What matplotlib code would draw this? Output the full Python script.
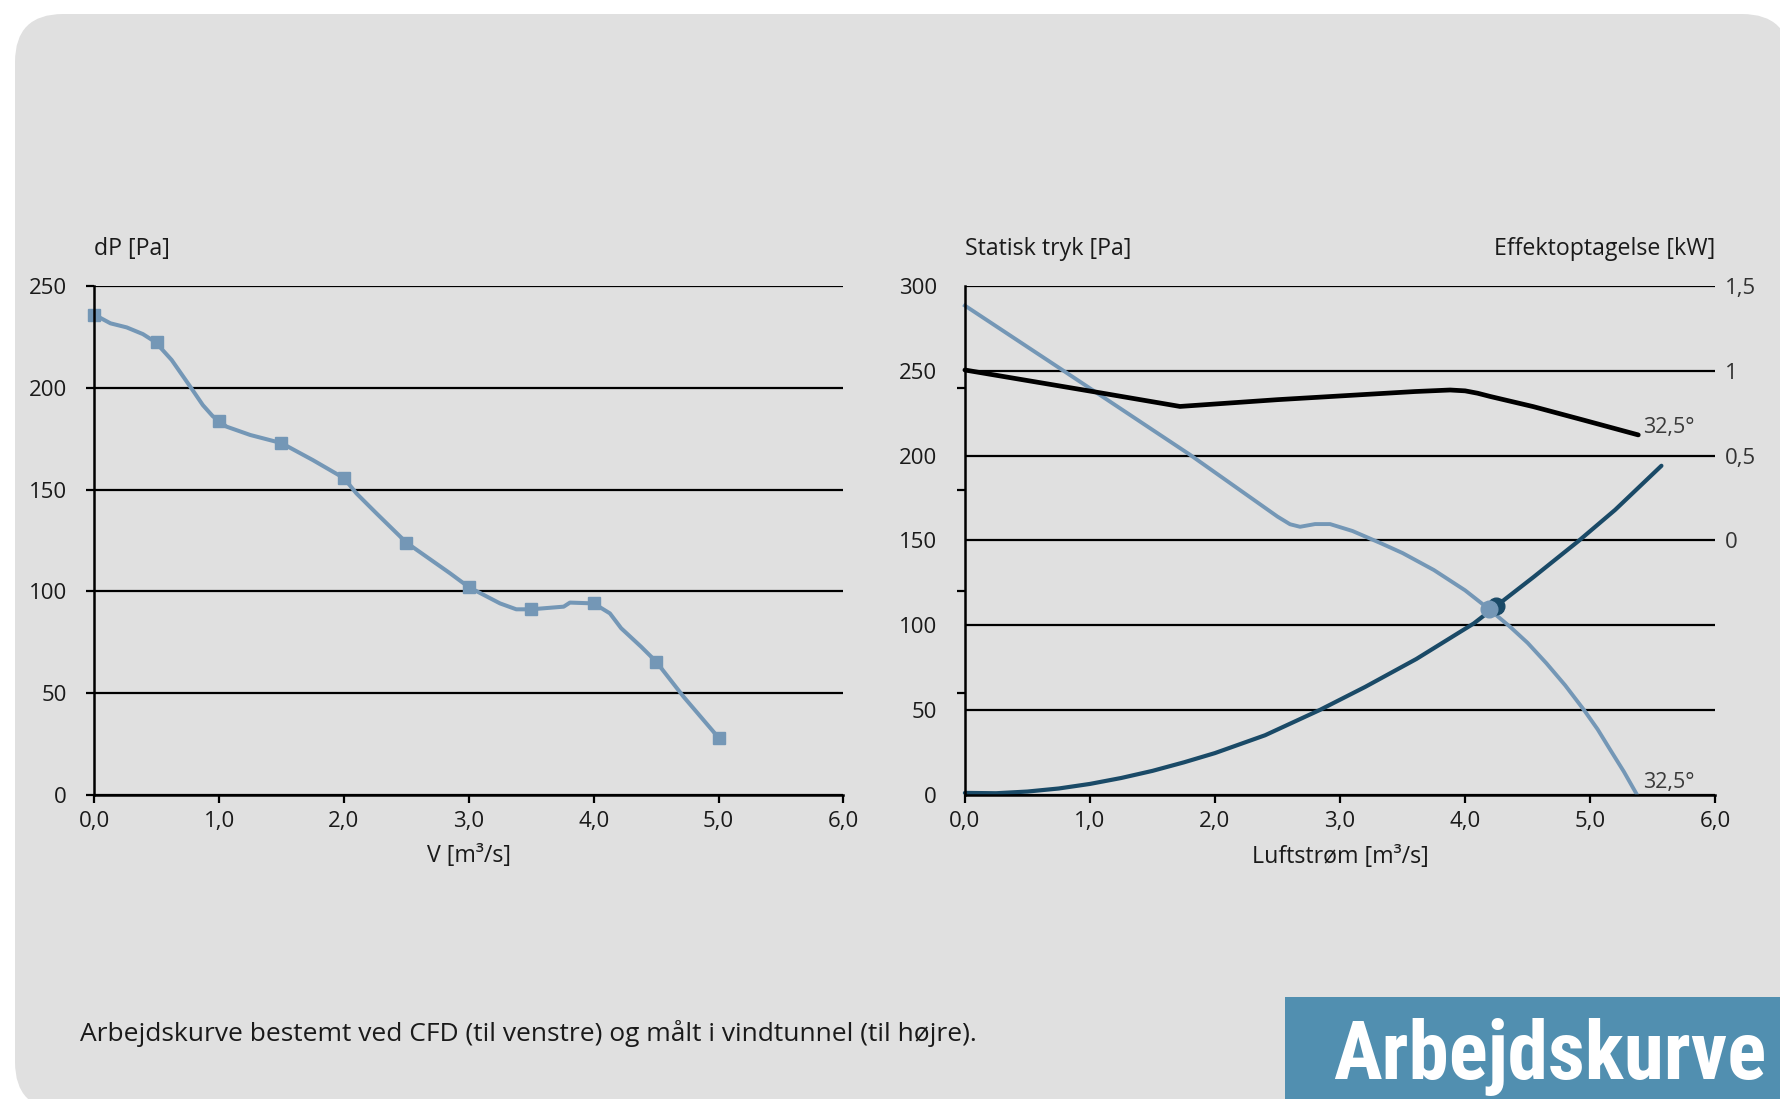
import matplotlib
matplotlib.use("Agg")
import matplotlib.pyplot as plt
from matplotlib.patches import FancyBboxPatch, Rectangle

plt.rcParams['font.family'] = ['Open Sans', 'DejaVu Sans']

# --- data ---
# left chart: CFD working curve
cfd_v = [0.0, 0.13, 0.26, 0.39, 0.49, 0.62, 0.77, 0.87, 0.95, 1.0, 1.06, 1.25, 1.5, 1.75,
         2.0, 2.1, 2.26, 2.5, 2.85, 3.0, 3.25, 3.38, 3.5, 3.76, 3.81, 4.0, 4.13, 4.22,
         4.38, 4.5, 4.72, 5.0]
cfd_dp = [236, 231.7, 229.7, 226.4, 222.5, 213.7, 200.5, 191.5, 186, 183.8, 180.9, 176.8,
          172.8, 164.5, 155.6, 148.1, 138.3, 123.9, 108.8, 102, 94, 91.1, 91.1, 92.4, 94.4,
          94, 89.1, 81.8, 72.7, 65.4, 48.1, 28]
cfd_pts_v = [0.0, 0.5, 1.0, 1.5, 2.0, 2.5, 3.0, 3.5, 4.0, 4.5, 5.0]
cfd_pts_dp = [236, 222.5, 183.8, 172.8, 155.6, 123.9, 102, 91.1, 94, 65.4, 28]

# right chart: wind tunnel measurement
fan_q = [0.0, 0.8, 1.8, 2.5, 2.6, 2.68, 2.8, 2.92, 3.1, 3.32, 3.5, 3.75, 4.0, 4.19, 4.36,
         4.5, 4.65, 4.8, 4.95, 5.06, 5.16, 5.27, 5.37]
fan_p = [288.5, 249.5, 200.5, 164, 159.5, 158, 159.6, 159.6, 155.5, 148.5, 142.5, 132.5,
         120.5, 109.5, 99, 89.5, 77.5, 64.5, 50, 38.5, 26.5, 13.5, 0.5]

sys_q = [0.0, 0.25, 0.5, 0.75, 1.0, 1.25, 1.5, 1.75, 2.0, 2.4, 2.84, 3.2, 3.61, 4.07,
         4.55, 4.905, 5.2, 5.57]
sys_p = [1.0, 0.8, 1.8, 3.6, 6.3, 9.8, 14, 19, 24.5, 35, 50, 63.5, 80, 101, 128.5, 149.5,
         168, 194]

pow_q = [0.0, 1.03, 1.72, 2.5, 3.3, 3.6, 3.88, 4.0, 4.1, 4.2, 4.545, 4.945, 5.385]
pow_kw = [1.005, 0.877, 0.79, 0.83, 0.865, 0.878, 0.887, 0.882, 0.868, 0.849, 0.789, 0.71,
          0.622]

op_sys = (4.25, 111.5)
op_fan = (4.19, 109.5)

x_ticks = [0, 1, 2, 3, 4, 5, 6]
x_labels = ['0,0', '1,0', '2,0', '3,0', '4,0', '5,0', '6,0']
kw_ticks = [0, 0.5, 1, 1.5]
kw_labels = ['0', '0,5', '1', '1,5']

W, H = 1780, 1099
light = '#7497b6'
dark = '#1a4a67'
grid_lw = 1.6
txt = '#1a1a1a'
lab_fs = 16.7


def frac(x0, y0, x1, y1):
    return [x0 / W, 1 - y1 / H, (x1 - x0) / W, (y1 - y0) / H]


fig = plt.figure(figsize=(W / 100, H / 100), dpi=100)
fig.patch.set_facecolor('white')

# background panel
bg = fig.add_axes([0, 0, 1, 1], zorder=-10)
bg.set_xlim(0, W)
bg.set_ylim(H, 0)
bg.axis('off')
bg.add_patch(FancyBboxPatch((15, 14), 1790 - 15, 1110 - 14,
                            boxstyle="round,pad=0,rounding_size=48",
                            fc='#e0e0e0', ec='none'))
bg.add_patch(Rectangle((1285, 997), 500, 110, fc='#518fb0', ec='none'))
title = bg.text(1333, 1079, 'Arbejdskurve', color='white', fontsize=58.5, fontweight='bold',
                family=['Liberation Sans Narrow', 'Roboto Condensed', 'DejaVu Sans Condensed',
                        'Liberation Sans'],
                va='baseline', ha='left')
# fit the title into the blue box (about 432 px wide)
r = fig.canvas.get_renderer()
tw = title.get_window_extent(r).width
if tw > 436:
    title.set_fontsize(58.5 * 432 / tw)

bg.text(80, 1041, 'Arbejdskurve bestemt ved CFD (til venstre) og målt i vindtunnel (til højre).',
        fontsize=19, color=txt, va='baseline', ha='left')


def style(ax):
    ax.set_facecolor('none')
    for s in ['top', 'right']:
        ax.spines[s].set_visible(False)
    for s in ['left', 'bottom']:
        ax.spines[s].set_linewidth(1.8)
    ax.set_xlim(0, 6)
    ax.set_xticks(x_ticks)
    ax.set_xticklabels(x_labels)
    ax.tick_params(axis='x', direction='out', length=5.5, width=1.6, pad=6,
                   labelsize=16, labelcolor=txt)
    ax.yaxis.grid(True, color='black', lw=grid_lw)
    ax.set_axisbelow(True)


# left chart
ax1 = fig.add_axes(frac(94.2, 286.1, 843.4, 794.6))
style(ax1)
ax1.set_ylim(0, 250)
ax1.set_yticks([0, 50, 100, 150, 200, 250])
ax1.tick_params(axis='y', direction='out', length=5.5, width=1.6, pad=14,
                labelsize=16, labelcolor=txt)
ax1.plot(cfd_v, cfd_dp, color=light, lw=2.9, clip_on=False)
ax1.plot(cfd_pts_v, cfd_pts_dp, ls='none', marker='s', ms=9, color=light, clip_on=False)
bg.text(94, 255, 'dP [Pa]', fontsize=lab_fs, color=txt, va='baseline', ha='left')
bg.text(468.8, 862, 'V [m³/s]', fontsize=lab_fs, color=txt, va='baseline', ha='center')

# right chart
ax2 = fig.add_axes(frac(964.9, 286.1, 1715.2, 794.6))
style(ax2)
ax2.set_ylim(0, 300)
ax2.set_yticks([0, 50, 100, 150, 200, 250, 300])
ax2.set_yticks([0, 60, 120, 180, 240, 300], minor=True)
ax2.tick_params(axis='y', which='major', length=0, pad=20, labelsize=16, labelcolor=txt)
ax2.tick_params(axis='y', which='minor', direction='out', length=5.5, width=1.6)
ax2.plot(sys_q, sys_p, color=dark, lw=3.0, solid_capstyle='round', clip_on=False)
ax2.plot(fan_q, fan_p, color=light, lw=2.8, clip_on=False)
ax2.plot(*op_sys, marker='o', ms=12, color=dark, clip_on=False)
ax2.plot(*op_fan, marker='o', ms=12, color=light, clip_on=False)
ax2.text(5.42, 3.7, '32,5°', fontsize=15.5, color='#3a3a3a', va='baseline', ha='left')

ax3 = ax2.twinx()
ax3.set_ylim(-1.5, 1.5)
for s in ax3.spines.values():
    s.set_visible(False)
ax3.set_yticks(kw_ticks)
ax3.set_yticklabels(kw_labels)
ax3.tick_params(axis='y', length=0, pad=7, labelsize=16, labelcolor='#333333')
ax3.plot(pow_q, pow_kw, color='black', lw=3.4, solid_capstyle='round', clip_on=False)
ax3.text(5.42, (213.3 - 150) / 100, '32,5°', fontsize=15.5, color='#3a3a3a',
         va='baseline', ha='left')

bg.text(965, 255, 'Statisk tryk [Pa]', fontsize=lab_fs, color=txt, va='baseline', ha='left')
bg.text(1715.5, 255, 'Effektoptagelse [kW]', fontsize=lab_fs, color=txt, va='baseline',
        ha='right')
bg.text(1340, 863, 'Luftstrøm [m³/s]', fontsize=lab_fs, color=txt, va='baseline', ha='center')

fig.savefig('out.png', dpi=100)
